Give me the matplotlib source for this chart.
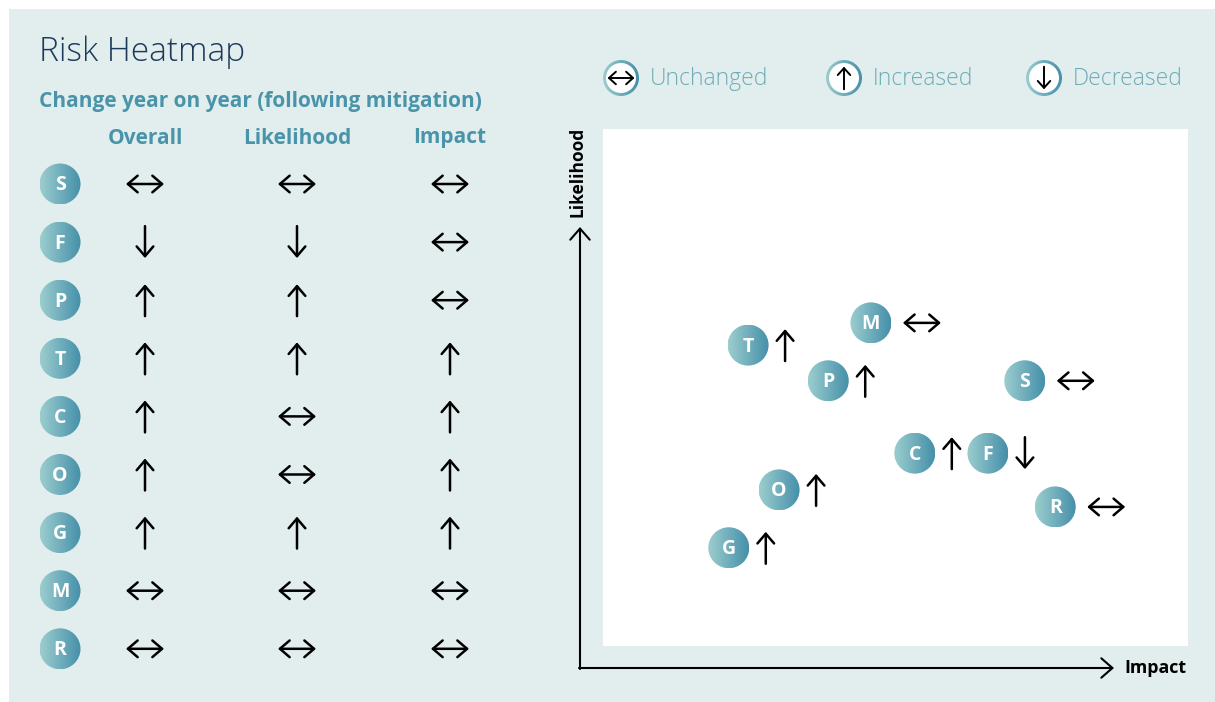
import numpy as np
import matplotlib
matplotlib.use('Agg')
import matplotlib.pyplot as plt
from matplotlib.patches import Circle, Rectangle, FancyArrowPatch, ArrowStyle
from matplotlib.colors import LinearSegmentedColormap

# table data (change year on year)
risks = ['S', 'F', 'P', 'T', 'C', 'O', 'G', 'M', 'R']
overall = ['same', 'down', 'up', 'up', 'up', 'up', 'up', 'same', 'same']
likelihood_chg = ['same', 'down', 'up', 'up', 'same', 'same', 'up', 'same', 'same']
impact_chg = ['same', 'same', 'same', 'up', 'up', 'up', 'up', 'same', 'same']
columns = ['Overall', 'Likelihood', 'Impact']

# heatmap positions (impact, likelihood on 0-10 scale)
map_risks = ['T', 'M', 'P', 'S', 'C', 'F', 'O', 'R', 'G']
map_impact = [2.48, 4.58, 3.85, 7.21, 5.33, 6.58, 3.01, 7.73, 2.15]
map_likelihood = [5.82, 6.25, 5.13, 5.13, 3.73, 3.73, 3.02, 2.69, 1.90]

legend_keys = ['same', 'up', 'down']
legend_labels = ['Unchanged', 'Increased', 'Decreased']

W, H = 1215, 702
PANEL = '#e2eeee'
TEAL = '#4a94aa'
LIGHT_TEAL = '#6eacba'
FONT = 'Open Sans'
grad = LinearSegmentedColormap.from_list('badge', ['#9bcdce', '#4690aa'])

fig = plt.figure(figsize=(W / 100, H / 100), dpi=100)

base = fig.add_axes([0, 0, 1, 1], zorder=0)
base.set_xlim(0, W)
base.set_ylim(H, 0)
base.axis('off')
base.add_patch(Rectangle((9, 9), W - 9, H - 9, color=PANEL, lw=0))

# white plotting area
ax = fig.add_axes([603 / W, 1 - 646 / H, 585 / W, 517 / H], zorder=1)
ax.set_xlim(0, 10)
ax.set_ylim(0, 10)
ax.set_facecolor('white')
ax.set_xticks([])
ax.set_yticks([])
for s in ax.spines.values():
    s.set_visible(False)

ov = fig.add_axes([0, 0, 1, 1], zorder=2)
ov.set_xlim(0, W)
ov.set_ylim(H, 0)
ov.patch.set_alpha(0)
ov.axis('off')


def badge(cx, cy, letter, r=20.5):
    im = ov.imshow(np.linspace(0, 1, 64).reshape(1, -1), cmap=grad, aspect='auto',
                   extent=[cx - r, cx + r, cy + r, cy - r], zorder=3)
    im.set_clip_path(Circle((cx, cy), r, transform=ov.transData))
    ov.text(cx, cy + 1.5, letter, color='white', fontsize=14, fontweight='bold',
            ha='center', va='center', family=FONT, zorder=4)


def trend_arrow(cx, cy, kind, size=38, lw=1.8, hl=7, hw=6):
    if kind == 'same':
        a, b, style = (cx - size / 2, cy), (cx + size / 2, cy), '<->'
    elif kind == 'up':
        a, b, style = (cx, cy + size * 0.42), (cx, cy - size * 0.42), '->'
    else:
        a, b, style = (cx, cy - size * 0.42), (cx, cy + size * 0.42), '->'
    ov.add_patch(FancyArrowPatch(a, b, arrowstyle=ArrowStyle(style, head_length=hl, head_width=hw),
                                 mutation_scale=1, shrinkA=0, shrinkB=0, color='black',
                                 lw=lw, zorder=4))


# titles
ov.text(39, 52, 'Risk Heatmap', fontsize=24, color='#1d3a5c', family=FONT,
        fontweight='light', va='center')
ov.text(39, 101, 'Change year on year (following mitigation)', fontsize=15,
        color=TEAL, family=FONT, fontweight='bold', va='center')

col_x = [145, 297, 450]
for x, c in zip(col_x, columns):
    ov.text(x, 138, c, fontsize=15, color=TEAL, family=FONT, fontweight='bold',
            ha='center', va='center')

for i, r in enumerate(risks):
    y = 184 + i * 58.1
    badge(60, y, r)
    for x, chg in zip(col_x, [overall[i], likelihood_chg[i], impact_chg[i]]):
        trend_arrow(x, y, chg)

# legend
for x, key, lab in zip([621, 844, 1044], legend_keys, legend_labels):
    r = 18
    im = ov.imshow(np.linspace(0, 1, 64).reshape(1, -1), cmap=grad, aspect='auto',
                   extent=[x - r, x + r, 78 + r, 78 - r], zorder=3)
    im.set_clip_path(Circle((x, 78), r, transform=ov.transData))
    ov.add_patch(Circle((x, 78), r - 3, color='white', lw=0, zorder=3.5))
    trend_arrow(x, 78, key, size=27, lw=1.4, hl=5, hw=4.5)
    ov.text(x + 29, 79, lab, fontsize=16.5, color=LIGHT_TEAL, family=FONT,
            fontweight='light', va='center')

# axis arrows
ov.add_patch(FancyArrowPatch((580, 669), (580, 227), arrowstyle=ArrowStyle('->', head_length=8, head_width=7),
                             mutation_scale=1, shrinkA=0, shrinkB=0, color='black', lw=1.5, zorder=4))
ov.add_patch(FancyArrowPatch((579, 668), (1114, 668), arrowstyle=ArrowStyle('->', head_length=8, head_width=7),
                             mutation_scale=1, shrinkA=0, shrinkB=0, color='black', lw=1.5, zorder=4))
ov.text(578, 172, 'Likelihood', rotation=90, fontsize=12.5, fontweight='bold', family=FONT,
        ha='center', va='center')
ov.text(1124, 668, 'Impact', fontsize=12.8, fontweight='bold', family=FONT, va='center')

# heatmap points
trend_of = dict(zip(risks, overall))
for name, xi, yi in zip(map_risks, map_impact, map_likelihood):
    disp = ax.transData.transform((xi, yi))
    px, py = ov.transData.inverted().transform(disp)
    badge(px, py, name)
    kind = trend_of[name]
    trend_arrow(px + (51 if kind == 'same' else 37), py, kind)

fig.savefig('out.png', dpi=100, facecolor='white')
